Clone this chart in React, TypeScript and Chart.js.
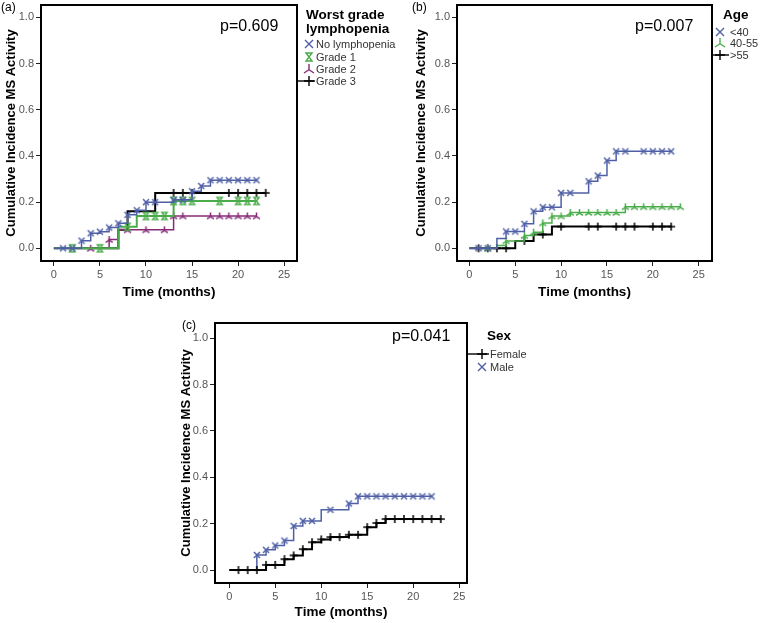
import React, { useEffect, useRef } from "react";
import Chart from "chart.js/auto";

type MarkerKind = "x" | "plus" | "hourglass" | "fork";

const FONT = "'Liberation Sans', Arial, sans-serif";

const timeTicks = [0, 5, 10, 15, 20, 25];
const incidenceTicks = [0, 0.2, 0.4, 0.6, 0.8, 1.0];

// (a) worst grade lymphopenia
const noLymphTimes = [0, 3, 4, 5, 6, 7, 8, 9, 10, 13, 15, 16, 17, 22];
const noLymphValues = [0, 0.033, 0.065, 0.072, 0.09, 0.108, 0.145, 0.165, 0.2, 0.21, 0.247, 0.27, 0.295, 0.295];
const noLymphCensored = [1, 2, 3, 4, 5, 6, 7, 8, 9, 10, 11, 13, 14, 15, 16, 17, 18, 19, 20, 21, 22];

const grade1Times = [0, 7, 9, 13, 22];
const grade1Values = [0, 0.093, 0.14, 0.205, 0.205];
const grade1Censored = [2, 5, 8, 10, 11, 12, 13, 14, 15, 18, 20, 21, 22];

const grade2Times = [0, 6, 7, 13, 22];
const grade2Values = [0, 0.038, 0.08, 0.14, 0.14];
const grade2Censored = [4, 6, 8, 10, 12, 13, 14, 17, 18, 19, 20, 21, 22];

const grade3Times = [0, 7, 8, 11, 23];
const grade3Values = [0, 0.08, 0.16, 0.24, 0.24];
const grade3Censored = [13, 14, 15, 19, 20, 21, 22, 23];

// (b) age
const under40Times = [0, 3, 4, 6, 7, 8, 10, 13, 14, 15, 16, 22];
const under40Values = [0, 0.043, 0.073, 0.106, 0.16, 0.178, 0.24, 0.29, 0.315, 0.38, 0.42, 0.42];
const under40Censored = [1, 2, 4, 5, 6, 7, 8, 9, 10, 11, 13, 14, 15, 16, 17, 19, 20, 21, 22];

const age4055Times = [0, 3, 4, 6, 7, 8, 9, 11, 17, 23];
const age4055Values = [0, 0.012, 0.032, 0.055, 0.07, 0.11, 0.14, 0.155, 0.18, 0.18];
const age4055Censored = [2, 4, 6, 7, 8, 9, 10, 11, 12, 13, 14, 15, 16, 17, 18, 19, 20, 21, 22, 23];

const over55Times = [0, 5, 7, 9, 22];
const over55Values = [0, 0.032, 0.06, 0.094, 0.094];
const over55Censored = [1, 2, 3, 4, 6, 8, 10, 13, 14, 16, 17, 18, 20, 21, 22];

// (c) sex
const femaleTimes = [0, 4, 6, 7, 8, 9, 10, 11, 13, 15, 16, 17, 23];
const femaleValues = [0, 0.022, 0.047, 0.063, 0.09, 0.12, 0.132, 0.142, 0.152, 0.185, 0.203, 0.22, 0.22];
const femaleCensored = [1, 2, 3, 4, 5, 6, 7, 8, 9, 10, 11, 12, 13, 14, 15, 16, 17, 18, 19, 20, 21, 22, 23];

const maleTimes = [0, 3, 4, 5, 6, 7, 8, 10, 13, 14, 22];
const maleValues = [0, 0.065, 0.087, 0.106, 0.127, 0.19, 0.212, 0.26, 0.287, 0.318, 0.318];
const maleCensored = [3, 4, 5, 6, 7, 8, 9, 11, 13, 14, 15, 16, 17, 18, 19, 20, 21, 22];

const BLUE = "#4f5fa6";
const GREEN = "#4aab4a";
const PURPLE = "#862a78";
const BLACK = "#000000";

interface Series {
  label: string;
  times: number[];
  values: number[];
  censored: number[];
  color: string;
  kind: MarkerKind;
  lineWidth: number;
  markerSize: number;
  legendY: number;
  legendLine?: boolean;
}

interface PanelProps {
  left: number;
  top: number;
  width: number;
  height: number;
  padLeft: number;
  padTop: number;
  padRight: number;
  yAxisWidth: number;
  xAxisHeight: number;
  xRange: [number, number];
  yRange: [number, number];
  xTitlePad: number;
  series: Series[];
  panelLabel: { text: string; x: number; y: number };
  pValue: { text: string; x: number; y: number };
  legendTitle: { lines: string[]; x: number; y: number };
  legendSymX: number;
  legendTextX: number;
}

function stepValue(times: number[], values: number[], t: number) {
  let v = values[0];
  for (let i = 0; i < times.length; i++) if (times[i] <= t) v = values[i];
  return v;
}

function drawMarker(
  ctx: CanvasRenderingContext2D,
  kind: MarkerKind,
  x: number,
  y: number,
  r: number,
  color: string,
  lw: number
) {
  ctx.save();
  ctx.strokeStyle = color;
  ctx.lineWidth = lw;
  ctx.beginPath();
  if (kind === "x") {
    ctx.moveTo(x - r, y - r);
    ctx.lineTo(x + r, y + r);
    ctx.moveTo(x + r, y - r);
    ctx.lineTo(x - r, y + r);
  } else if (kind === "plus") {
    ctx.moveTo(x - r, y);
    ctx.lineTo(x + r, y);
    ctx.moveTo(x, y - r);
    ctx.lineTo(x, y + r);
  } else if (kind === "hourglass") {
    const w = r * 0.75;
    ctx.moveTo(x - w, y - r);
    ctx.lineTo(x + w, y - r);
    ctx.lineTo(x - w, y + r);
    ctx.lineTo(x + w, y + r);
    ctx.closePath();
  } else {
    ctx.moveTo(x, y - r);
    ctx.lineTo(x, y + r * 0.15);
    ctx.moveTo(x - r, y + r * 0.8);
    ctx.lineTo(x, y + r * 0.15);
    ctx.lineTo(x + r, y + r * 0.8);
  }
  ctx.stroke();
  ctx.restore();
}

function markerImage(kind: MarkerKind, r: number, color: string, lw: number) {
  const c = document.createElement("canvas");
  const s = Math.ceil(2 * r + lw + 2);
  c.width = s;
  c.height = s;
  const ctx = c.getContext("2d");
  if (ctx) drawMarker(ctx, kind, s / 2, s / 2, r, color, lw);
  return c;
}

const legendRadius: Record<MarkerKind, number> = { x: 4, plus: 5, hourglass: 4, fork: 5 };

function Panel(props: PanelProps) {
  const chartRef = useRef<HTMLCanvasElement>(null);
  const chartInstance = useRef<Chart>();

  useEffect(() => {
    if (!chartRef.current) return;
    const ctx = chartRef.current.getContext("2d");
    if (!ctx) return;

    const datasets: any[] = [];
    props.series.forEach((s) => {
      datasets.push({
        label: s.label,
        data: s.times.map((t, i) => ({ x: t, y: s.values[i] })),
        showLine: true,
        stepped: true,
        borderColor: s.color,
        borderWidth: s.lineWidth,
        pointRadius: 0,
        fill: false,
      });
      datasets.push({
        label: s.label + " censored",
        data: s.censored.map((t) => ({ x: t, y: stepValue(s.times, s.values, t) })),
        showLine: false,
        pointStyle: markerImage(s.kind, s.markerSize, s.color, 1.5),
        pointRadius: 4,
        pointHoverRadius: 4,
      });
    });

    const overlay = {
      id: "overlay",
      afterDraw(chart: any) {
        const c: CanvasRenderingContext2D = chart.ctx;
        const a = chart.chartArea;
        c.save();
        c.strokeStyle = "#000";
        c.lineWidth = 2;
        c.strokeRect(a.left, a.top, a.right - a.left, a.bottom - a.top);

        c.fillStyle = "#000";
        c.textBaseline = "middle";
        c.textAlign = "left";
        c.font = `12px ${FONT}`;
        c.fillText(props.panelLabel.text, props.panelLabel.x, props.panelLabel.y);

        c.font = `16px ${FONT}`;
        c.fillText(props.pValue.text, props.pValue.x, props.pValue.y);

        c.font = `bold 13.5px ${FONT}`;
        props.legendTitle.lines.forEach((line, i) => {
          c.fillText(line, props.legendTitle.x, props.legendTitle.y + i * 14.5);
        });

        c.font = `11px ${FONT}`;
        c.fillStyle = "#333";
        props.series.forEach((s) => {
          if (s.legendLine) {
            c.strokeStyle = s.color;
            c.lineWidth = 1.4;
            c.beginPath();
            c.moveTo(a.right, s.legendY);
            c.lineTo(props.legendTextX - 1, s.legendY);
            c.stroke();
          }
          drawMarker(c, s.kind, props.legendSymX, s.legendY, legendRadius[s.kind], s.color, 1.4);
          c.fillText(s.label, props.legendTextX, s.legendY + 0.5);
        });
        c.restore();
      },
    };

    chartInstance.current = new Chart(ctx, {
      type: "scatter",
      data: { datasets },
      options: {
        animation: false,
        responsive: false,
        maintainAspectRatio: false,
        layout: {
          padding: { left: props.padLeft, top: props.padTop, right: props.padRight, bottom: 0 },
        },
        plugins: {
          legend: { display: false },
          tooltip: { enabled: false },
        },
        scales: {
          x: {
            type: "linear",
            min: props.xRange[0],
            max: props.xRange[1],
            afterBuildTicks: (s: any) => {
              s.ticks = timeTicks.map((v) => ({ value: v }));
            },
            afterFit: (s: any) => {
              s.height = props.xAxisHeight;
              s.paddingLeft = 0;
              s.paddingRight = 0;
              s.paddingTop = 0;
              s.paddingBottom = 0;
            },
            grid: { drawOnChartArea: false, drawTicks: true, tickLength: 5, color: "#222" },
            border: { display: false },
            ticks: {
              autoSkip: false,
              maxRotation: 0,
              padding: 2,
              color: "#555",
              font: { family: FONT, size: 11 },
              callback: (v: any) => String(v),
            },
            title: {
              display: true,
              text: "Time (months)",
              color: "#000",
              font: { family: FONT, size: 13.5, weight: "bold" },
              padding: { top: 0, bottom: props.xTitlePad },
            },
          },
          y: {
            type: "linear",
            min: props.yRange[0],
            max: props.yRange[1],
            afterBuildTicks: (s: any) => {
              s.ticks = incidenceTicks.map((v) => ({ value: v }));
            },
            afterFit: (s: any) => {
              s.width = props.yAxisWidth;
              s.paddingLeft = 0;
              s.paddingRight = 0;
              s.paddingTop = 0;
              s.paddingBottom = 0;
            },
            grid: { drawOnChartArea: false, drawTicks: true, tickLength: 5, color: "#222" },
            border: { display: false },
            ticks: {
              autoSkip: false,
              padding: 2,
              color: "#555",
              font: { family: FONT, size: 11 },
              callback: (v: any) => Number(v).toFixed(1),
            },
            title: {
              display: true,
              text: "Cumulative Incidence MS Activity",
              color: "#000",
              font: { family: FONT, size: 13, weight: "bold" },
              padding: { top: 4, bottom: 0 },
            },
          },
        },
      } as any,
      plugins: [overlay],
    });

    return () => {
      if (chartInstance.current) {
        chartInstance.current.destroy();
      }
    };
  }, []);

  return (
    <canvas
      ref={chartRef}
      width={props.width}
      height={props.height}
      style={{
        position: "absolute",
        left: props.left,
        top: props.top,
        width: props.width,
        height: props.height,
      }}
    />
  );
}

const App: React.FC = () => {
  const panelA: Series[] = [
    { label: "No lymphopenia", times: noLymphTimes, values: noLymphValues, censored: noLymphCensored, color: BLUE, kind: "x", lineWidth: 1.5, markerSize: 3, legendY: 44 },
    { label: "Grade 1", times: grade1Times, values: grade1Values, censored: grade1Censored, color: GREEN, kind: "hourglass", lineWidth: 2, markerSize: 3.4, legendY: 57 },
    { label: "Grade 2", times: grade2Times, values: grade2Values, censored: grade2Censored, color: PURPLE, kind: "fork", lineWidth: 1.5, markerSize: 3.5, legendY: 69 },
    { label: "Grade 3", times: grade3Times, values: grade3Values, censored: grade3Censored, color: BLACK, kind: "plus", lineWidth: 2, markerSize: 4, legendY: 81, legendLine: true },
  ];
  const panelB: Series[] = [
    { label: "<40", times: under40Times, values: under40Values, censored: under40Censored, color: BLUE, kind: "x", lineWidth: 1.5, markerSize: 3, legendY: 32 },
    { label: "40-55", times: age4055Times, values: age4055Values, censored: age4055Censored, color: GREEN, kind: "fork", lineWidth: 1.5, markerSize: 3.5, legendY: 43 },
    { label: ">55", times: over55Times, values: over55Values, censored: over55Censored, color: BLACK, kind: "plus", lineWidth: 2, markerSize: 4, legendY: 55, legendLine: true },
  ];
  const panelC: Series[] = [
    { label: "Female", times: femaleTimes, values: femaleValues, censored: femaleCensored, color: BLACK, kind: "plus", lineWidth: 2, markerSize: 4, legendY: 44, legendLine: true },
    { label: "Male", times: maleTimes, values: maleValues, censored: maleCensored, color: BLUE, kind: "x", lineWidth: 1.5, markerSize: 3, legendY: 57 },
  ];

  return (
    <div
      style={{
        position: "absolute",
        left: 0,
        top: 0,
        width: 760,
        height: 623,
        background: "#fff",
        overflow: "hidden",
      }}
    >
      <Panel
        left={0}
        top={0}
        width={400}
        height={310}
        padLeft={0}
        padTop={4}
        padRight={103}
        yAxisWidth={41}
        xAxisHeight={49}
        xRange={[-1.4, 26.4]}
        yRange={[-0.055, 1.054]}
        xTitlePad={10}
        series={panelA}
        panelLabel={{ text: "(a)", x: 1, y: 8 }}
        pValue={{ text: "p=0.609", x: 220, y: 27 }}
        legendTitle={{ lines: ["Worst grade", "lymphopenia"], x: 306, y: 15 }}
        legendSymX={309}
        legendTextX={316}
      />
      <Panel
        left={400}
        top={0}
        width={360}
        height={310}
        padLeft={10}
        padTop={4}
        padRight={48}
        yAxisWidth={47}
        xAxisHeight={49}
        xRange={[-1.35, 26.45]}
        yRange={[-0.055, 1.054]}
        xTitlePad={10}
        series={panelB}
        panelLabel={{ text: "(b)", x: 12, y: 8 }}
        pValue={{ text: "p=0.007", x: 235, y: 27 }}
        legendTitle={{ lines: ["Age"], x: 323, y: 15 }}
        legendSymX={320}
        legendTextX={330}
      />
      <Panel
        left={175}
        top={310}
        width={400}
        height={313}
        padLeft={0}
        padTop={13}
        padRight={108}
        yAxisWidth={40}
        xAxisHeight={40}
        xRange={[-1.55, 25.85]}
        yRange={[-0.056, 1.066]}
        xTitlePad={3}
        series={panelC}
        panelLabel={{ text: "(c)", x: 7, y: 16 }}
        pValue={{ text: "p=0.041", x: 217, y: 27 }}
        legendTitle={{ lines: ["Sex"], x: 312, y: 26 }}
        legendSymX={307}
        legendTextX={315}
      />
    </div>
  );
};

export default App;
